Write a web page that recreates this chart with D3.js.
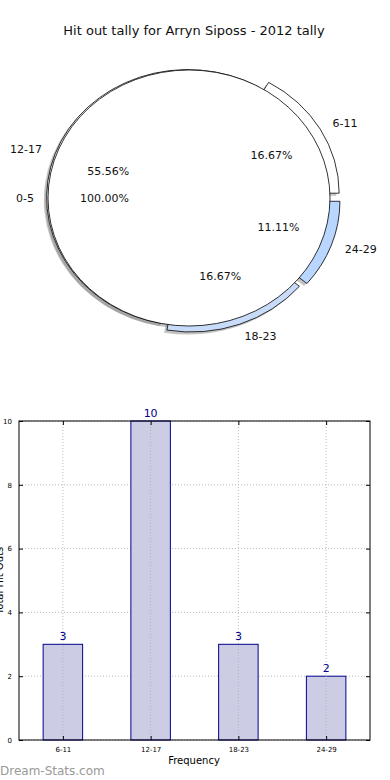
<!DOCTYPE html>
<html>
<head>
<meta charset="utf-8">
<script src="https://cdn.jsdelivr.net/npm/d3@7"></script>
<style>
  body { margin: 0; background: #fff; }
  text { font-family: "DejaVu Sans", sans-serif; }
</style>
</head>
<body>
<div id="chart"></div>
<script>
// pie data (matplotlib style, clockwise from 3 o'clock)
let pieLabels = ['24-29', '18-23', '12-17', '6-11']
let pieValues = [2, 3, 10, 3]
let piePct = ['11.11%', '16.67%', '55.56%', '16.67%']
let pieExplode = [0.075, 0.05, 0.01, 0.075]
let pieColors = ['#b8d6ff', '#c8dcfa', '#ffffff', '#ffffff']
// the empty 0-5 bin gets drawn as a full circle on top
let zeroLabel = '0-5'
let zeroPct = '100.00%'

// bar data
let barCats = ['6-11', '12-17', '18-23', '24-29']
let barValues = [3, 10, 3, 2]
let yTicks = [0, 2, 4, 6, 8, 10]

let width = 390
let height = 780

let svg = d3
  .select('#chart')
  .append('svg')
  .attr('width', width)
  .attr('height', height)

svg
  .append('text')
  .attr('x', 194)
  .attr('y', 35)
  .attr('text-anchor', 'middle')
  .attr('font-size', 13)
  .attr('fill', '#111')
  .text('Hit out tally for Arryn Siposs - 2012 tally')

// ---------- pie ----------
let cx = 189
let cy = 198
let rx = 141
let ry = 128

let pie = d3
  .pie()
  .sort(null)
  .value(d => d)
  .startAngle(Math.PI / 2)
  .endAngle(Math.PI / 2 + 2 * Math.PI)

let arcs = pie(pieValues)

// work in a circle of radius rx then squash y
let arc = d3.arc().innerRadius(0).outerRadius(rx)

let pieG = svg
  .append('g')
  .attr('transform', 'translate(' + cx + ',' + cy + ') scale(1,' + ry / rx + ')')

function offset(a, e) {
  let mid = (a.startAngle + a.endAngle) / 2
  return [Math.sin(mid) * e * rx, -Math.cos(mid) * e * rx]
}

// shadows first (down-left)
let sh = 0.02 * rx
arcs.forEach((a, i) => {
  let o = offset(a, pieExplode[i])
  pieG
    .append('path')
    .attr('d', arc(a))
    .attr('transform', 'translate(' + (o[0] - sh) + ',' + (o[1] + sh) + ')')
    .attr('fill', '#888')
    .attr('opacity', 0.5)
})
pieG
  .append('circle')
  .attr('cx', -sh)
  .attr('cy', sh)
  .attr('r', rx)
  .attr('fill', '#888')
  .attr('opacity', 0.5)

arcs.forEach((a, i) => {
  let o = offset(a, pieExplode[i])
  pieG
    .append('path')
    .attr('d', arc(a))
    .attr('transform', 'translate(' + o[0] + ',' + o[1] + ')')
    .attr('fill', pieColors[i])
    .attr('stroke', '#000')
    .attr('stroke-width', 0.8)
    .attr('vector-effect', 'non-scaling-stroke')
})

pieG
  .append('circle')
  .attr('r', rx)
  .attr('fill', '#fff')
  .attr('stroke', '#000')
  .attr('stroke-width', 0.8)
  .attr('vector-effect', 'non-scaling-stroke')

// labels
let labelG = svg.append('g').attr('transform', 'translate(' + cx + ',' + cy + ')')
arcs.forEach((a, i) => {
  let mid = (a.startAngle + a.endAngle) / 2
  let sx = Math.sin(mid)
  let sy = -Math.cos(mid)
  let e = pieExplode[i]
  labelG
    .append('text')
    .attr('x', sx * (1.1 + e) * rx)
    .attr('y', sy * (1.1 + e) * ry)
    .attr('dy', '0.35em')
    .attr('text-anchor', sx > 0 ? 'start' : 'end')
    .attr('font-size', 11)
    .attr('fill', '#111')
    .text(pieLabels[i])
  labelG
    .append('text')
    .attr('x', sx * (0.6 + e) * rx)
    .attr('y', sy * (0.6 + e) * ry)
    .attr('dy', '0.35em')
    .attr('text-anchor', 'middle')
    .attr('font-size', 11)
    .attr('fill', '#111')
    .text(piePct[i])
})
labelG
  .append('text')
  .attr('x', -1.1 * rx)
  .attr('y', 0)
  .attr('dy', '0.35em')
  .attr('text-anchor', 'end')
  .attr('font-size', 11)
  .attr('fill', '#111')
  .text(zeroLabel)
labelG
  .append('text')
  .attr('x', -0.6 * rx)
  .attr('y', 0)
  .attr('dy', '0.35em')
  .attr('text-anchor', 'middle')
  .attr('font-size', 11)
  .attr('fill', '#111')
  .text(zeroPct)

// ---------- bars ----------
let plotLeft = 19
let plotRight = 370
let plotTop = 421
let plotBottom = 740

let x = d3.scaleLinear().domain([-0.5, barCats.length - 0.5]).range([plotLeft, plotRight])
let y = d3.scaleLinear().domain([0, 10]).range([plotBottom, plotTop])
let barW = 0.45 * (x(1) - x(0))

let g = svg.append('g')

// grid
g.selectAll('.gy')
  .data(yTicks)
  .enter()
  .append('line')
  .attr('x1', plotLeft)
  .attr('x2', plotRight)
  .attr('y1', d => y(d))
  .attr('y2', d => y(d))
  .attr('stroke', '#aaa')
  .attr('stroke-width', 0.8)
  .attr('stroke-dasharray', '1,2')

g.selectAll('.bar')
  .data(barValues)
  .enter()
  .append('rect')
  .attr('x', (d, i) => x(i) - barW / 2)
  .attr('y', d => y(d))
  .attr('width', barW)
  .attr('height', d => plotBottom - y(d))
  .attr('fill', '#cccce5')
  .attr('stroke', '#00008b')
  .attr('stroke-width', 1)

// vertical grid sits over the bars in the original
g.selectAll('.gx')
  .data(barCats)
  .enter()
  .append('line')
  .attr('x1', (d, i) => x(i))
  .attr('x2', (d, i) => x(i))
  .attr('y1', plotTop)
  .attr('y2', plotBottom)
  .attr('stroke', '#aaa')
  .attr('stroke-width', 0.8)
  .attr('stroke-dasharray', '1,2')

g.selectAll('.val')
  .data(barValues)
  .enter()
  .append('text')
  .attr('x', (d, i) => x(i))
  .attr('y', d => y(d) - 4)
  .attr('text-anchor', 'middle')
  .attr('font-size', 11)
  .attr('fill', '#00008b')
  .text(d => d)

// frame
g.append('rect')
  .attr('x', plotLeft)
  .attr('y', plotTop)
  .attr('width', plotRight - plotLeft)
  .attr('height', plotBottom - plotTop)
  .attr('fill', 'none')
  .attr('stroke', '#000')
  .attr('stroke-width', 1)

// ticks inside on all sides
let yAxisL = d3.axisLeft(y).tickValues(yTicks).tickSizeInner(-4).tickSizeOuter(0).tickPadding(7)
let yAxisR = d3.axisRight(y).tickValues(yTicks).tickSizeInner(-4).tickSizeOuter(0).tickFormat('')
let xAxisB = d3.axisBottom(x).tickValues(d3.range(barCats.length)).tickSizeInner(-4).tickSizeOuter(0).tickPadding(7).tickFormat(i => barCats[i])
let xAxisT = d3.axisTop(x).tickValues(d3.range(barCats.length)).tickSizeInner(-4).tickSizeOuter(0).tickFormat('')

function styleAxis(sel) {
  sel.select('.domain').remove()
  sel.selectAll('text').attr('font-size', 7).attr('fill', '#000').style('font-family', 'DejaVu Sans, sans-serif')
  sel.selectAll('line').attr('stroke', '#000')
}

g.append('g').attr('transform', 'translate(' + plotLeft + ',0)').call(yAxisL).call(styleAxis)
g.append('g').attr('transform', 'translate(' + plotRight + ',0)').call(yAxisR).call(styleAxis)
g.append('g').attr('transform', 'translate(0,' + plotBottom + ')').call(xAxisB).call(styleAxis)
g.append('g').attr('transform', 'translate(0,' + plotTop + ')').call(xAxisT).call(styleAxis)

svg
  .append('text')
  .attr('x', 194)
  .attr('y', 764)
  .attr('text-anchor', 'middle')
  .attr('font-size', 10)
  .attr('fill', '#000')
  .text('Frequency')

// y label mostly clipped off the left edge, as in the original
svg
  .append('text')
  .attr('transform', 'translate(3,' + (plotTop + plotBottom) / 2 + ') rotate(-90)')
  .attr('text-anchor', 'middle')
  .attr('font-size', 10)
  .attr('fill', '#000')
  .text('Total Hit Outs')

svg
  .append('text')
  .attr('x', 0)
  .attr('y', 775)
  .attr('font-size', 12)
  .attr('fill', '#999')
  .text('Dream-Stats.com')
</script>
</body>
</html>
